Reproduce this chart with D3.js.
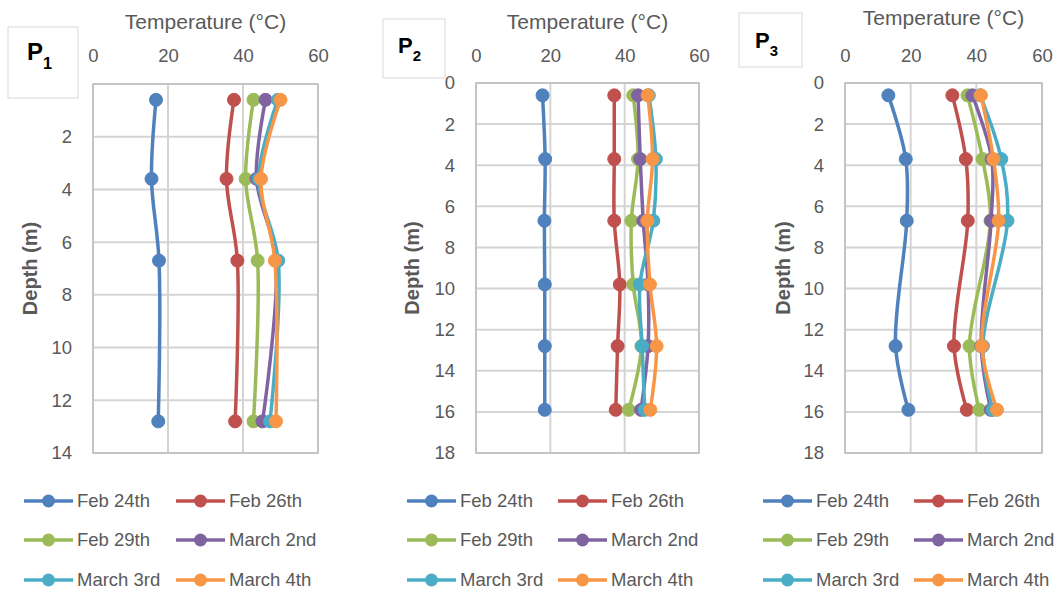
<!DOCTYPE html>
<html><head><meta charset="utf-8">
<script src="https://cdn.jsdelivr.net/npm/d3@7"></script>
<style>
html,body{margin:0;padding:0;background:#fff;}
svg{display:block;font-family:"Liberation Sans",Arial,sans-serif;}
</style></head>
<body>
<svg id="chart" width="1064" height="594"></svg>
<script>
// ---------- DATA ----------
const seriesNames = ["Feb 24th", "Feb 26th", "Feb 29th", "March 2nd", "March 3rd", "March 4th"];
const seriesColors = ["#4F81BD", "#C0504D", "#9BBB59", "#8064A2", "#4BACC6", "#F79646"];
const tempTicks = [0, 20, 40, 60];

// P1
const p1Depths = [0.6, 3.6, 6.7, 12.8];
const p1Temps = [
  [16.8, 15.6, 17.6, 17.4],   // Feb 24th
  [37.6, 35.6, 38.5, 37.9],   // Feb 26th
  [42.8, 40.7, 43.9, 42.8],   // Feb 29th
  [46.0, 43.6, 48.8, 45.2],   // March 2nd
  [49.3, 44.2, 49.4, 47.2],   // March 3rd
  [50.0, 44.8, 48.5, 48.8]    // March 4th
];
const p1DepthTicks = [2, 4, 6, 8, 10, 12, 14];

// P2
const p2Depths = [0.6, 3.7, 6.7, 9.8, 12.8, 15.9];
const p2Temps = [
  [17.9, 18.6, 18.4, 18.5, 18.5, 18.5],
  [37.2, 37.2, 37.2, 38.7, 38.1, 37.6],
  [42.3, 43.6, 41.8, 42.3, 44.5, 41.1],
  [43.6, 44.2, 45.0, 46.3, 46.3, 44.4],
  [46.5, 48.4, 47.7, 44.1, 44.7, 45.4],
  [46.2, 47.5, 46.1, 46.8, 48.6, 46.9]
];
const p2DepthTicks = [0, 2, 4, 6, 8, 10, 12, 14, 16, 18];

// P3
const p3Depths = [0.6, 3.7, 6.7, 12.8, 15.9];
const p3Temps = [
  [13.2, 18.5, 18.8, 15.4, 19.3],
  [32.7, 36.8, 37.4, 33.2, 37.1],
  [37.3, 41.9, 44.3, 37.9, 40.9],
  [38.8, 44.7, 44.5, 41.5, 44.4],
  [41.2, 47.6, 49.5, 42.0, 45.0],
  [41.4, 45.2, 46.8, 41.7, 46.3]
];
const p3DepthTicks = [0, 2, 4, 6, 8, 10, 12, 14, 16, 18];

// ---------- LAYOUT ----------
const panels = [
  { label: "1", depths: p1Depths, temps: p1Temps, ticks: p1DepthTicks, yMax: 14,
    x0: 93, x1: 318, y0: 84, y1: 453, titleY: 29, tickY: 62, depthX: 30,
    box: [8, 27, 70, 71], pX: 27, pY: 60, pSize: 24,
    legendX: [24, 176] },
  { label: "2", depths: p2Depths, temps: p2Temps, ticks: p2DepthTicks, yMax: 18,
    x0: 476, x1: 699, y0: 83, y1: 453, titleY: 29, tickY: 62, depthX: 412,
    box: [383, 19, 62, 59], pX: 398, pY: 53, pSize: 22,
    legendX: [407, 558] },
  { label: "3", depths: p3Depths, temps: p3Temps, ticks: p3DepthTicks, yMax: 18,
    x0: 845, x1: 1042, y0: 83, y1: 453, titleY: 25, tickY: 62, depthX: 783,
    box: [739, 13, 63, 54], pX: 755, pY: 48, pSize: 22,
    legendX: [763, 914] }
];

const textColor = "#595959";
const svg = d3.select("#chart");

panels.forEach(p => {
  const g = svg.append("g");
  const x = d3.scaleLinear().domain([0, 60]).range([p.x0, p.x1]);
  const y = d3.scaleLinear().domain([0, p.yMax]).range([p.y0, p.y1]);

  // gridlines
  g.append("g").selectAll("line.v").data(tempTicks).join("line")
    .attr("x1", d => x(d)).attr("x2", d => x(d)).attr("y1", p.y0).attr("y2", p.y1)
    .attr("stroke", "#d4d4d4").attr("stroke-width", 2);
  g.append("g").selectAll("line.h").data(d3.range(0, p.yMax + 1, 2)).join("line")
    .attr("y1", d => y(d)).attr("y2", d => y(d)).attr("x1", p.x0).attr("x2", p.x1)
    .attr("stroke", "#d4d4d4").attr("stroke-width", 2);
  // frame
  g.append("rect").attr("x", p.x0).attr("y", p.y0).attr("width", p.x1 - p.x0).attr("height", p.y1 - p.y0)
    .attr("fill", "none").attr("stroke", "#bfbfbf").attr("stroke-width", 1.5);

  // x axis (top)
  const xAxis = d3.axisTop(x).tickValues(tempTicks).tickSize(0).tickPadding(0);
  const xa = g.append("g").attr("transform", `translate(0,${p.tickY})`).call(xAxis);
  xa.select(".domain").remove();
  xa.selectAll("text").attr("font-size", 18.5).attr("fill", textColor)
    .attr("font-family", "Liberation Sans, Arial, sans-serif").attr("dy", 0);

  // y axis
  const yAxis = d3.axisLeft(y).tickValues(p.ticks).tickSize(0).tickPadding(21);
  const ya = g.append("g").attr("transform", `translate(${p.x0},0)`).call(yAxis);
  ya.select(".domain").remove();
  ya.selectAll("text").attr("font-size", 18.5).attr("fill", textColor)
    .attr("font-family", "Liberation Sans, Arial, sans-serif");

  // titles
  g.append("text").attr("x", (p.x0 + p.x1) / 2).attr("y", p.titleY)
    .attr("text-anchor", "middle").attr("font-size", 21).attr("fill", textColor)
    .text("Temperature (°C)");
  g.append("text").attr("transform", `translate(${p.depthX},${(p.y0 + p.y1) / 2}) rotate(-90)`)
    .attr("text-anchor", "middle").attr("dy", "0.35em").attr("font-size", 20)
    .attr("font-weight", "bold").attr("fill", textColor)
    .text("Depth (m)");

  // series
  const line = d3.line().curve(d3.curveCatmullRom.alpha(0.5))
    .x(d => x(d[0])).y(d => y(d[1]));
  p.temps.forEach((vals, i) => {
    const pts = vals.map((v, j) => [v, p.depths[j]]);
    const sg = g.append("g");
    sg.append("path").datum(pts).attr("d", line).attr("fill", "none")
      .attr("stroke", seriesColors[i]).attr("stroke-width", 3.5).attr("stroke-linecap", "round");
    sg.selectAll("circle").data(pts).join("circle")
      .attr("cx", d => x(d[0])).attr("cy", d => y(d[1])).attr("r", 6.5)
      .attr("fill", seriesColors[i]).attr("stroke", seriesColors[i]).attr("stroke-width", 1);
  });

  // label box
  const [bx, by, bw, bh] = p.box;
  g.append("rect").attr("x", bx).attr("y", by).attr("width", bw).attr("height", bh)
    .attr("fill", "#fff").attr("stroke", "#d9d9d9").attr("stroke-width", 1);
  const lt = g.append("text").attr("x", p.pX).attr("y", p.pY).attr("font-weight", "bold")
    .attr("fill", "#000").attr("font-size", p.pSize);
  lt.append("tspan").text("P");
  lt.append("tspan").attr("dy", p.pSize * 0.38).attr("font-size", p.pSize * 0.68).text(p.label);

  // legend
  const rowsY = [501, 540, 580];
  seriesNames.forEach((name, i) => {
    const col = i % 2, row = Math.floor(i / 2);
    const lx = p.legendX[col], ly = rowsY[row];
    const lg = g.append("g");
    lg.append("line").attr("x1", lx).attr("x2", lx + 49).attr("y1", ly).attr("y2", ly)
      .attr("stroke", seriesColors[i]).attr("stroke-width", 3.5);
    lg.append("circle").attr("cx", lx + 24.5).attr("cy", ly).attr("r", 6.5).attr("fill", seriesColors[i]);
    lg.append("text").attr("x", lx + 53).attr("y", ly).attr("dy", "0.35em")
      .attr("font-size", 18.5).attr("fill", textColor).text(name);
  });
});
</script>
</body></html>
